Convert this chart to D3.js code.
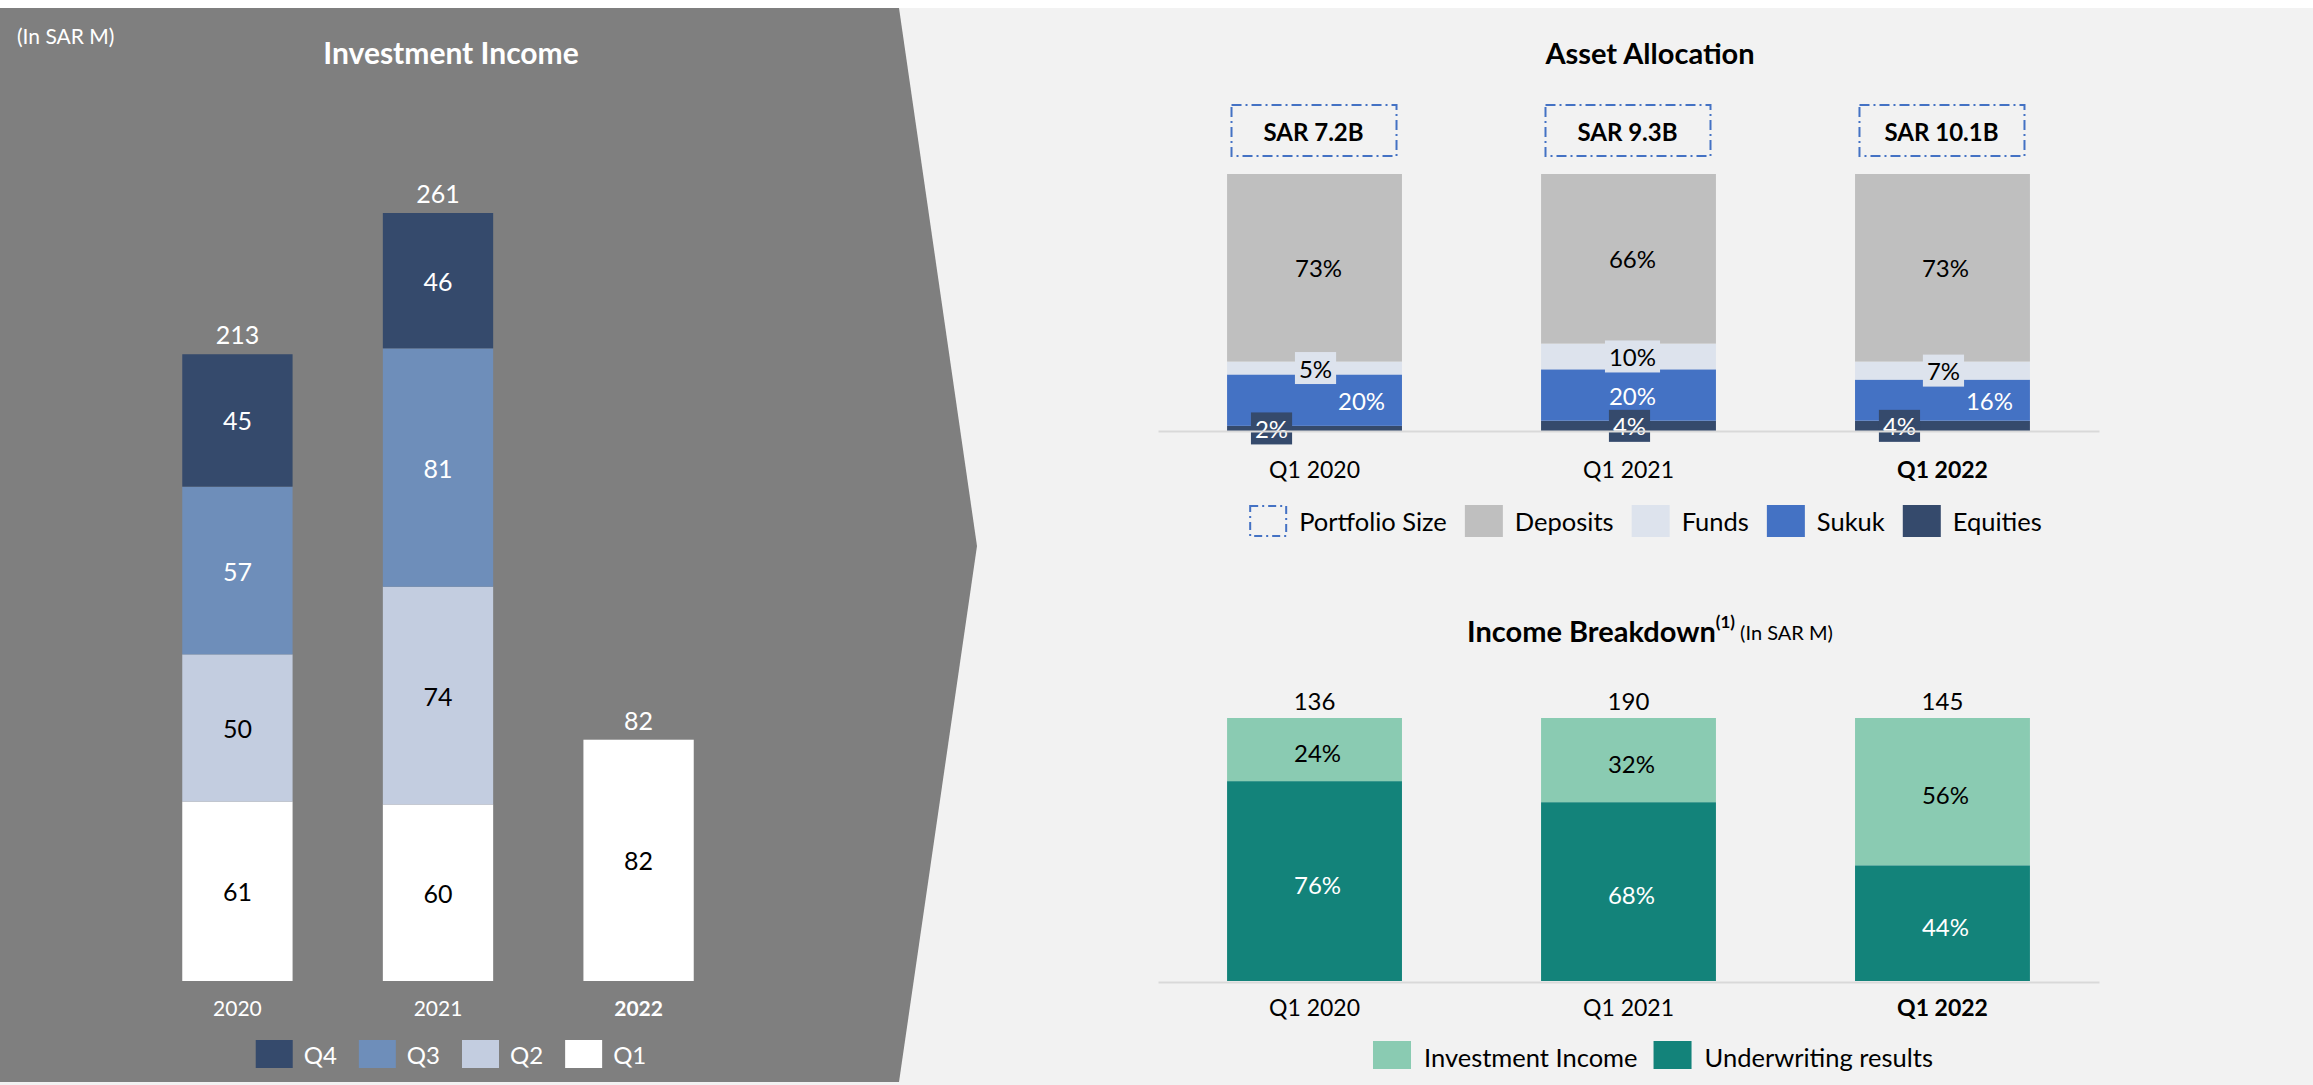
<!DOCTYPE html>
<html lang="en">
<head>
<meta charset="UTF-8">
<title>Investment Income / Asset Allocation / Income Breakdown</title>
<script src="https://d3js.org/d3.v7.min.js"></script>
<style>
  body { margin: 0; background: #fff; }
  svg { display: block; font-family: Lato, "Open Sans", sans-serif; }
</style>
</head>
<body>
<svg id="main" width="2313" height="1085"></svg>
<script>
// investment income per year, SAR M
const years = ['2020', '2021', '2022'];
const q1 = [61, 60, 82];
const q2 = [50, 74, 0];
const q3 = [57, 81, 0];
const q4 = [45, 46, 0];
const quarterKeys = ['Q1', 'Q2', 'Q3', 'Q4'];
const quarterLegend = ['Q4', 'Q3', 'Q2', 'Q1'];

// asset allocation, %
const allocPeriods = ['Q1 2020', 'Q1 2021', 'Q1 2022'];
const portfolioSize = ['SAR 7.2B', 'SAR 9.3B', 'SAR 10.1B'];
const equities = [2, 4, 4];
const sukuk = [20, 20, 16];
const funds = [5, 10, 7];
const deposits = [73, 66, 73];

// income breakdown, %
const incomePeriods = ['Q1 2020', 'Q1 2021', 'Q1 2022'];
const incomeTotals = [136, 190, 145];
const underwriting = [76, 68, 44];
const investShare = [24, 32, 56];

const svg = d3.select('#main');

// backgrounds
svg.append('rect').attr('width', 2313).attr('height', 1085).attr('fill', '#fff');
svg.append('rect').attr('y', 8).attr('width', 2313).attr('height', 1077).attr('fill', '#F2F2F2');
svg.append('polygon')
    .attr('points', [[0, 8], [899, 8], [977, 546], [899, 1082], [0, 1082]].map(p => p.join(',')).join(' '))
    .attr('fill', '#7F7F7F');

function legend(g, items, opt) {
    let x = 0;
    items.forEach(function (it) {
        let item = g.append('g').attr('transform', 'translate(' + x + ',0)');
        if (it.dash) {
            item.append('rect').attr('x', 1).attr('y', -opt.h / 2 + 1).attr('width', opt.w - 2).attr('height', opt.h - 2)
                .attr('fill', 'none').attr('stroke', '#4472C4').attr('stroke-width', 2).attr('stroke-dasharray', '8,4,2,4');
        } else {
            item.append('rect').attr('y', -opt.h / 2).attr('width', opt.w).attr('height', opt.h).attr('fill', it.color);
        }
        let t = item.append('text').attr('x', opt.w + opt.gap).attr('y', opt.dy || 0)
            .attr('dominant-baseline', 'central').attr('font-size', opt.size).attr('fill', opt.textColor).text(it.label);
        x += opt.w + opt.gap + t.node().getComputedTextLength() + opt.space;
    });
    let b = g.node().getBBox();
    g.attr('transform', 'translate(' + (opt.cx - b.width / 2) + ',' + opt.cy + ')');
}

function styleAxis(ax, size, color, boldTick) {
    ax.attr('font-family', null).attr('font-size', null);
    ax.selectAll('text').attr('font-size', size).attr('fill', color)
        .attr('font-weight', d => d === boldTick ? 'bold' : 'normal');
}

// ---------- Investment Income ----------
const quarterColor = {Q1: '#FFFFFF', Q2: '#C3CDE0', Q3: '#6E8EBA', Q4: '#354A6C'};
const quarterText = {Q1: '#000', Q2: '#000', Q3: '#fff', Q4: '#fff'};
const incomeRows = years.map((y, i) => ({year: y, Q1: q1[i], Q2: q2[i], Q3: q3[i], Q4: q4[i]}));
const incomeSeries = d3.stack().keys(quarterKeys)(incomeRows);

const xL = d3.scaleBand().domain(years).range([92, 784]).padding(0.45);
const yL = d3.scaleLinear().domain([0, 261]).range([981, 213]);

svg.append('text').attr('x', 17).attr('y', 35).attr('dominant-baseline', 'central')
    .attr('font-size', 21).attr('fill', '#fff').text('(In SAR M)');
svg.append('text').attr('x', 451).attr('y', 52).attr('text-anchor', 'middle').attr('dominant-baseline', 'central')
    .attr('font-size', 30).attr('font-weight', 'bold').attr('fill', '#fff').text('Investment Income');

const gL = svg.append('g');
incomeSeries.forEach(function (s) {
    let segs = s.filter(d => d[1] - d[0] > 0);
    gL.selectAll(null).data(segs).enter().append('rect')
        .attr('x', d => xL(d.data.year)).attr('width', xL.bandwidth())
        .attr('y', d => yL(d[1])).attr('height', d => yL(d[0]) - yL(d[1]))
        .attr('fill', quarterColor[s.key]);
    gL.selectAll(null).data(segs).enter().append('text')
        .attr('x', d => xL(d.data.year) + xL.bandwidth() / 2)
        .attr('y', d => yL((d[0] + d[1]) / 2))
        .attr('text-anchor', 'middle').attr('dominant-baseline', 'central')
        .attr('font-size', 25).attr('fill', quarterText[s.key])
        .text(d => d[1] - d[0]);
});
gL.selectAll(null).data(incomeRows).enter().append('text')
    .attr('x', d => xL(d.year) + xL.bandwidth() / 2)
    .attr('y', d => yL(d3.sum(quarterKeys, k => d[k])) - 20)
    .attr('text-anchor', 'middle').attr('dominant-baseline', 'central')
    .attr('font-size', 25).attr('fill', '#fff')
    .text(d => d3.sum(quarterKeys, k => d[k]));

const axL = svg.append('g').attr('transform', 'translate(0,981)')
    .call(d3.axisBottom(xL).tickSize(0).tickPadding(20));
axL.select('.domain').remove();
styleAxis(axL, 21, '#fff', '2022');

legend(svg.append('g'), quarterLegend.map(k => ({label: k, color: quarterColor[k]})),
    {w: 37, h: 28, gap: 11, space: 22, size: 24, textColor: '#fff', cx: 451, cy: 1054});

// ---------- Asset Allocation ----------
const allocKeys = ['equities', 'sukuk', 'funds', 'deposits'];
const allocColor = {deposits: '#BFBFBF', funds: '#DDE3ED', sukuk: '#4472C4', equities: '#354A6C'};
const allocText = {deposits: '#000', funds: '#000', sukuk: '#fff', equities: '#fff'};
const allocBoxed = {funds: true, equities: true};
const allocNudge = {deposits: [4, 4, 3], funds: [1, 4, 1], sukuk: [47, 4, 47], equities: [-43, 1, -43]};
const allocRows = allocPeriods.map((p, i) => ({period: p, equities: equities[i], sukuk: sukuk[i], funds: funds[i], deposits: deposits[i]}));
const allocSeries = d3.stack().keys(allocKeys)(allocRows);

const xR = d3.scaleBand().domain(allocPeriods).range([1158, 2099]).paddingInner(0.443).paddingOuter(0.22);
const yA = d3.scaleLinear().domain([0, 100]).range([431, 174]);

svg.append('text').attr('x', 1650).attr('y', 52).attr('text-anchor', 'middle').attr('dominant-baseline', 'central')
    .attr('font-size', 29).attr('font-weight', 'bold').attr('fill', '#000').text('Asset Allocation');

const gA = svg.append('g');
gA.selectAll(null).data(allocPeriods).enter().append('rect')
    .attr('x', d => xR(d) + xR.bandwidth() / 2 - 83).attr('y', 105)
    .attr('width', 165).attr('height', 51)
    .attr('fill', 'none').attr('stroke', '#4472C4').attr('stroke-width', 2).attr('stroke-dasharray', '10,4,2,4');
gA.selectAll(null).data(allocPeriods).enter().append('text')
    .attr('x', d => xR(d) + xR.bandwidth() / 2 - 1).attr('y', 131)
    .attr('text-anchor', 'middle').attr('dominant-baseline', 'central')
    .attr('font-size', 24).attr('font-weight', 'bold').text((d, i) => portfolioSize[i]);

allocSeries.forEach(function (s) {
    gA.selectAll(null).data(s).enter().append('rect')
        .attr('x', d => xR(d.data.period)).attr('width', xR.bandwidth())
        .attr('y', d => yA(d[1])).attr('height', d => yA(d[0]) - yA(d[1]))
        .attr('fill', allocColor[s.key]);
});

const axA = svg.append('g').attr('transform', 'translate(0,431)')
    .call(d3.axisBottom(xR).tickSize(0).tickSizeOuter(0).tickPadding(31));
axA.select('.domain').attr('stroke', '#D9D9D9').attr('stroke-width', 2);
styleAxis(axA, 23, '#000', 'Q1 2022');

allocSeries.forEach(function (s) {
    s.forEach(function (d, i) {
        let cx = xR(d.data.period) + xR.bandwidth() / 2 + allocNudge[s.key][i];
        let cy = yA((d[0] + d[1]) / 2);
        let lg = gA.append('g');
        let t = lg.append('text').attr('x', cx).attr('y', cy)
            .attr('text-anchor', 'middle').attr('dominant-baseline', 'central')
            .attr('font-size', 24).attr('fill', allocText[s.key]).text((d[1] - d[0]) + '%');
        if (allocBoxed[s.key]) {
            let w = t.node().getComputedTextLength() + 8;
            lg.insert('rect', 'text').attr('x', cx - w / 2).attr('y', cy - 16)
                .attr('width', w).attr('height', 32).attr('fill', allocColor[s.key]);
        }
    });
});

legend(svg.append('g'), [
    {label: 'Portfolio Size', dash: true},
    {label: 'Deposits', color: allocColor.deposits},
    {label: 'Funds', color: allocColor.funds},
    {label: 'Sukuk', color: allocColor.sukuk},
    {label: 'Equities', color: allocColor.equities}
], {w: 38, h: 32, gap: 12, space: 18, size: 25.5, textColor: '#000', cx: 1645, cy: 521});

// ---------- Income Breakdown ----------
const brkKeys = ['underwriting', 'investment'];
const brkColor = {underwriting: '#13837A', investment: '#8ACBB2'};
const brkText = {underwriting: '#fff', investment: '#000'};
const brkRows = incomePeriods.map((p, i) => ({period: p, underwriting: underwriting[i], investment: investShare[i], total: incomeTotals[i]}));
const brkSeries = d3.stack().keys(brkKeys)(brkRows);
const xB = d3.scaleBand().domain(incomePeriods).range([1158, 2099]).paddingInner(0.443).paddingOuter(0.22);
const yB = d3.scaleLinear().domain([0, 100]).range([981, 718]);

let title = svg.append('text').attr('x', 1650).attr('y', 630).attr('text-anchor', 'middle')
    .attr('dominant-baseline', 'central').attr('fill', '#000');
title.append('tspan').attr('font-size', 29).attr('font-weight', 'bold').text('Income Breakdown');
title.append('tspan').attr('font-size', 17).attr('font-weight', 'bold').attr('dy', -9).text('(1)');
title.append('tspan').attr('font-size', 20).attr('dy', 11).text(' (In SAR M)');

const gB = svg.append('g');
brkSeries.forEach(function (s) {
    gB.selectAll(null).data(s).enter().append('rect')
        .attr('x', d => xB(d.data.period)).attr('width', xB.bandwidth())
        .attr('y', d => yB(d[1])).attr('height', d => yB(d[0]) - yB(d[1]))
        .attr('fill', brkColor[s.key]);
    gB.selectAll(null).data(s).enter().append('text')
        .attr('x', d => xB(d.data.period) + xB.bandwidth() / 2 + 3)
        .attr('y', d => yB((d[0] + d[1]) / 2) + 3)
        .attr('text-anchor', 'middle').attr('dominant-baseline', 'central')
        .attr('font-size', 24).attr('fill', brkText[s.key]).text(d => (d[1] - d[0]) + '%');
});
gB.selectAll(null).data(brkRows).enter().append('text')
    .attr('x', d => xB(d.period) + xB.bandwidth() / 2)
    .attr('y', yB(100) - 18)
    .attr('text-anchor', 'middle').attr('dominant-baseline', 'central')
    .attr('font-size', 24).attr('fill', '#000').text(d => d.total);

const axB = svg.append('g').attr('transform', 'translate(0,982)')
    .call(d3.axisBottom(xB).tickSize(0).tickSizeOuter(0).tickPadding(18));
axB.select('.domain').attr('stroke', '#D9D9D9').attr('stroke-width', 2);
styleAxis(axB, 23, '#000', 'Q1 2022');

legend(svg.append('g'), [
    {label: 'Investment Income', color: brkColor.investment},
    {label: 'Underwriting results', color: brkColor.underwriting}
], {w: 38, h: 28, gap: 13, space: 16, size: 25.5, textColor: '#000', cx: 1653, cy: 1055, dy: 2});
</script>
</body>
</html>
